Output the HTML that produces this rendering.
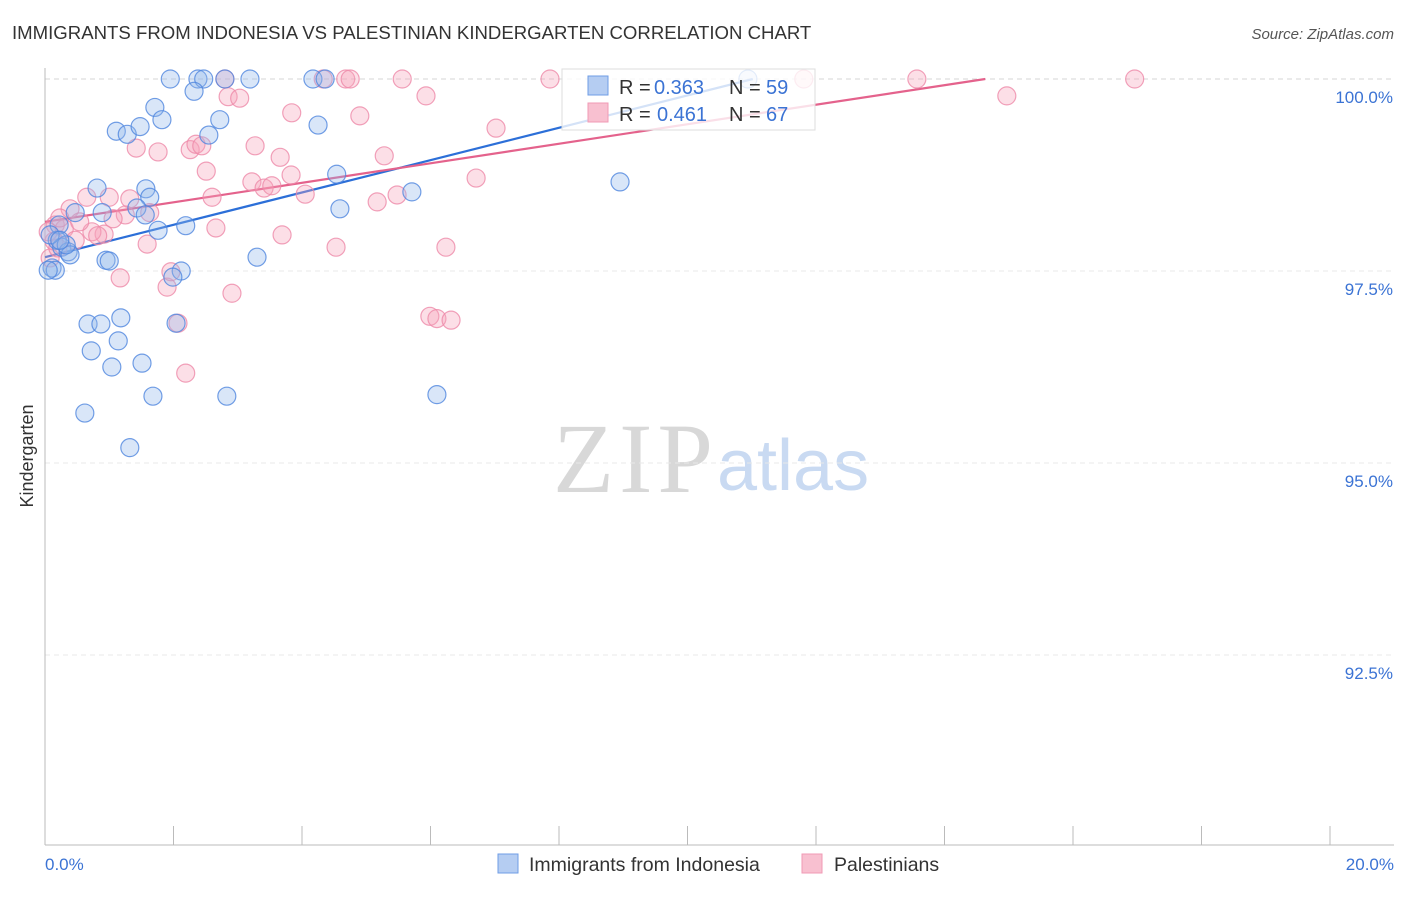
<!DOCTYPE html>
<html><head><meta charset="utf-8"><style>
body{margin:0;background:#fff;font-family:"Liberation Sans",sans-serif}
</style></head><body>
<svg id="chart" width="1406" height="892" viewBox="0 0 1406 892" style="font-family:'Liberation Sans',sans-serif">
<text x="12" y="39" font-size="18.6" fill="#333">IMMIGRANTS FROM INDONESIA VS PALESTINIAN KINDERGARTEN CORRELATION CHART</text>
<text x="1394" y="39" font-size="15" fill="#555" font-style="italic" text-anchor="end">Source: ZipAtlas.com</text>
<text x="553" y="492" font-size="100" fill="#d8d8d8" style="font-family:'Liberation Serif',serif" textLength="160">ZIP</text>
<text x="717" y="490" font-size="72" fill="#c9daf2">atlas</text>
<text transform="translate(33,456) rotate(-90)" font-size="18" fill="#333" text-anchor="middle">Kindergarten</text>
<g id="grid"></g><g id="axes"></g><g id="lines"></g><g id="pts"></g>
<g>
<rect x="562" y="69" width="253" height="61" fill="#fff" fill-opacity="0.8" stroke="#ddd"/>
<rect x="588" y="76" width="20" height="19" fill="#b5cdf2" stroke="#6f9de6"/>
<rect x="588" y="103" width="20" height="19" fill="#f8c0d0" stroke="#f09ab5"/>
<text x="619" y="94" font-size="20" fill="#333">R =</text>
<text x="654" y="94" font-size="20" fill="#3b73d4">0.363</text>
<text x="729" y="94" font-size="20" fill="#333">N =</text>
<text x="766" y="94" font-size="20" fill="#3b73d4">59</text>
<text x="619" y="121" font-size="20" fill="#333">R =</text>
<text x="657" y="121" font-size="20" fill="#3b73d4">0.461</text>
<text x="729" y="121" font-size="20" fill="#333">N =</text>
<text x="766" y="121" font-size="20" fill="#3b73d4">67</text>
</g>
<g>
<rect x="498" y="854" width="20" height="19" fill="#b5cdf2" stroke="#6f9de6"/>
<text x="529" y="871" font-size="19.5" fill="#333">Immigrants from Indonesia</text>
<rect x="802" y="854" width="20" height="19" fill="#f8c0d0" stroke="#f09ab5"/>
<text x="834" y="871" font-size="19.5" fill="#333">Palestinians</text>
</g>
</svg>
<script>
const yTicks=[100.0,97.5,95.0,92.5];
const yTickLabels=["100.0%","97.5%","95.0%","92.5%"];
const xTicks=[0,2,4,6,8,10,12,14,16,18,20];
const xEndLabels=["0.0%","20.0%"];
const blueX=[1.95,2.38,2.47,2.80,3.19,4.17,4.36,10.94,2.32,1.71,1.82,1.11,1.28,1.48,2.72,2.55,4.25,0.81,1.57,1.63,1.43,0.89,2.19,1.76,0.22,4.59,5.71,8.95,4.54,3.30,2.12,1.99,0.95,1.00,0.19,0.26,0.36,0.39,0.11,0.16,0.67,0.87,1.18,1.14,0.72,1.51,1.04,2.04,1.68,2.83,6.10,0.62,1.32,0.08,0.05,0.33,1.56,0.47,0.23];
const blueY=[100,100,100,100,100,100,100,100,99.84,99.63,99.47,99.32,99.28,99.38,99.47,99.27,99.40,98.58,98.57,98.46,98.32,98.26,98.09,98.03,98.10,98.31,98.53,98.66,98.76,97.68,97.50,97.42,97.64,97.63,97.90,97.81,97.75,97.71,97.54,97.51,96.81,96.81,96.89,96.59,96.46,96.30,96.25,96.82,95.87,95.87,95.89,95.65,95.20,97.97,97.51,97.84,98.23,98.26,97.90];
const pinkX=[2.80,4.33,4.68,4.75,5.56,7.86,11.81,13.57,16.96,2.85,3.03,5.93,14.97,3.84,4.90,7.02,1.42,1.76,2.26,2.35,2.44,3.27,3.66,5.28,2.51,3.83,6.71,3.22,3.41,3.53,4.05,2.60,5.17,5.48,0.65,0.39,1.00,1.32,1.63,1.25,1.06,0.92,0.16,0.30,0.73,0.82,2.66,3.69,4.53,6.24,1.59,1.17,1.90,2.91,1.96,2.07,5.99,6.10,6.32,2.19,0.14,0.08,0.23,0.54,0.05,0.20,0.47];
const pinkY=[100,100,100,100,100,100,100,100,100,99.77,99.75,99.78,99.78,99.56,99.52,99.36,99.10,99.05,99.08,99.15,99.13,99.13,98.98,99.00,98.80,98.75,98.71,98.66,98.58,98.61,98.50,98.46,98.40,98.49,98.46,98.31,98.46,98.44,98.26,98.23,98.18,97.98,98.10,98.05,98.01,97.96,98.06,97.97,97.81,97.81,97.85,97.41,97.29,97.21,97.49,96.82,96.91,96.88,96.86,96.17,97.89,97.67,98.19,98.14,98.01,97.80,97.90];
const blueTrend=[97.68,0.2106];
const pinkTrend=[98.14,0.1271];
const NS="http://www.w3.org/2000/svg";
const X=v=>45+(v/20)*1285;
const Y=v=>79+(100-v)/2.5*192;
function mk(tag,attrs,parent){const e=document.createElementNS(NS,tag);for(const k in attrs)e.setAttribute(k,attrs[k]);document.getElementById(parent).appendChild(e);return e;}
yTicks.forEach((t,i)=>{
 const g=mk('line',{x1:45,x2:1394,y1:Y(t),y2:Y(t),stroke:i==0?'#d5d5d5':'#e8e8e8','stroke-dasharray':'5,4'},'grid');
 
 
 const l=mk('text',{x:1393,y:Y(t)+24,'font-size':17,fill:'#3b73d4','text-anchor':'end'},'grid');
 l.textContent=yTickLabels[i];
 
 
});
const ax=mk('line',{x1:45,x2:45,y1:68,y2:845,stroke:'#bbb'},'axes');


const bx=mk('line',{x1:45,x2:1394,y1:845,y2:845,stroke:'#bbb'},'axes');


xTicks.forEach(t=>{
 const k=mk('line',{x1:X(t),x2:X(t),y1:826,y2:845,stroke:'#bbb'},'axes');
 
 
});
[[0,'start',45],[20,'end',1394]].forEach((a,i)=>{
 const t=mk('text',{x:a[2],y:870,'font-size':17,fill:'#3b73d4','text-anchor':a[1]},'axes');
 t.textContent=xEndLabels[i];
 
 
});
function pts(xs,ys,fill,stroke,name){xs.forEach((x,i)=>{
 const c=mk('circle',{cx:X(x),cy:Y(ys[i]),r:9,fill:fill,'fill-opacity':0.35,stroke:stroke,'stroke-width':1.2,'stroke-opacity':0.8},'pts');
 
 
});}
pts(pinkX,pinkY,'#f5a3bb','#ee8aa9','palestinians-point');
pts(blueX,blueY,'#93b8ec','#4f86de','indonesia-point');
function trend(tr,color,name){
 const xEnd=Math.min(20,(100-tr[0])/tr[1]);
 const l=mk('line',{x1:X(0),y1:Y(tr[0]),x2:X(xEnd),y2:Y(tr[0]+tr[1]*xEnd),stroke:color,'stroke-width':2.2},'lines');
 
 
}
trend(blueTrend,'#2c6fd8','indonesia-trendline');
trend(pinkTrend,'#e4628c','palestinians-trendline');
</script>
</body></html>
